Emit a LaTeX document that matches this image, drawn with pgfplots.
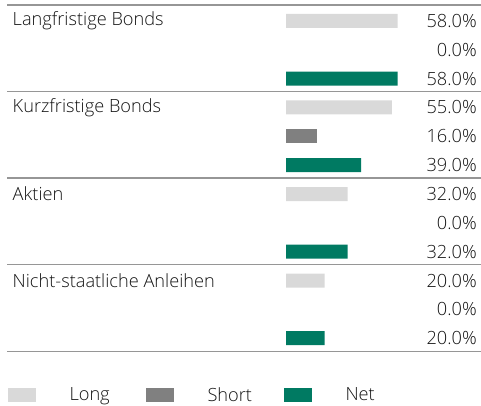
\documentclass[border=0pt]{standalone}
\usepackage{pgfplots}
\pgfplotsset{compat=1.18}
\usepackage{pgfplotstable}
\usepackage{fontspec}
\setmainfont{Open Sans}[UprightFont={* Light}]
\definecolor{longc}{RGB}{217,217,217}
\definecolor{shortc}{RGB}{128,128,128}
\definecolor{netc}{RGB}{0,122,98}
\definecolor{linec}{RGB}{150,150,150}
\definecolor{txt}{RGB}{20,20,20}
\pgfplotstableread{
row val
0 58
3 55
6 32
9 20
}\longdata
\pgfplotstableread{
row val
4 16
}\shortdata
\pgfplotstableread{
row val
2 58
5 39
8 32
11 20
}\netdata
\pgfplotstableread{
row val
0 58
1 0
2 58
3 55
4 16
5 39
6 32
7 0
8 32
9 20
10 0
11 20
}\labeldata
\newcommand{\fs}{\fontsize{18.2pt}{21pt}\selectfont}
\begin{document}
\begin{tikzpicture}
\begin{axis}[
  name=ax,
  scale only axis,
  width=481pt, height=405pt,
  xmin=-148.57, xmax=101.30,
  ymin=-0.728, ymax=13.318,
  y dir=reverse,
  axis lines=left,
  axis line style={draw=none},
  major tick length=0pt,
  clip=false,
  /pgf/number format/assume math mode=true,
  xtick=\empty,
  ytick={0,3,6,9},
  yticklabels={Langfristige Bonds, Kurzfristige Bonds, Aktien, Nicht-staatliche Anleihen},
  yticklabel style={anchor=west, inner xsep=0pt, xshift=12.5pt, font=\fs, text=txt},
  legend columns=3,
  legend style={at={(rel axis cs:0.0152,0.0247)}, anchor=west, draw=none, fill=none,
    inner sep=0pt, font=\fs, text=txt,
    nodes={text width=76pt, inner xsep=0pt, align=left},
    /tikz/every odd column/.append style={column sep=34pt}},
  legend image code/.code={\fill[draw=none] (0pt,-7pt) rectangle (28pt,7pt);},
]
\addplot[xbar, bar shift=0pt, bar width=14pt, fill=longc, draw=none] table[x=val, y=row]{\longdata};
\addlegendentry{Long}
\addplot[xbar, bar shift=0pt, bar width=14pt, fill=shortc, draw=none] table[x=val, y=row]{\shortdata};
\addlegendentry{Short}
\addplot[xbar, bar shift=0pt, bar width=14pt, fill=netc, draw=none] table[x=val, y=row]{\netdata};
\addlegendentry{Net}
\addplot[forget plot, only marks, mark=none, point meta=explicit,
  nodes near coords={\pgfmathprintnumber[fixed, fixed zerofill, precision=1]{\pgfplotspointmeta}\%},
  every node near coord/.style={anchor=east, inner xsep=0pt, font=\fs, text=txt}]
  table[x expr=99.2, y=row, meta=val]{\labeldata};
\draw[linec, line width=1.3pt] (axis cs:-144.8,-0.555) -- (axis cs:101.3,-0.555);
\draw[linec, line width=1.3pt] (axis cs:-144.8,2.445) -- (axis cs:101.3,2.445);
\draw[linec, line width=1.3pt] (axis cs:-144.8,5.445) -- (axis cs:101.3,5.445);
\draw[linec, line width=1.3pt] (axis cs:-144.8,8.445) -- (axis cs:101.3,8.445);
\draw[linec, line width=1.3pt] (axis cs:-144.8,11.46) -- (axis cs:101.3,11.46);
\end{axis}
\pgfresetboundingbox
\useasboundingbox (ax.south west) rectangle (ax.north east);
\end{tikzpicture}
\end{document}
